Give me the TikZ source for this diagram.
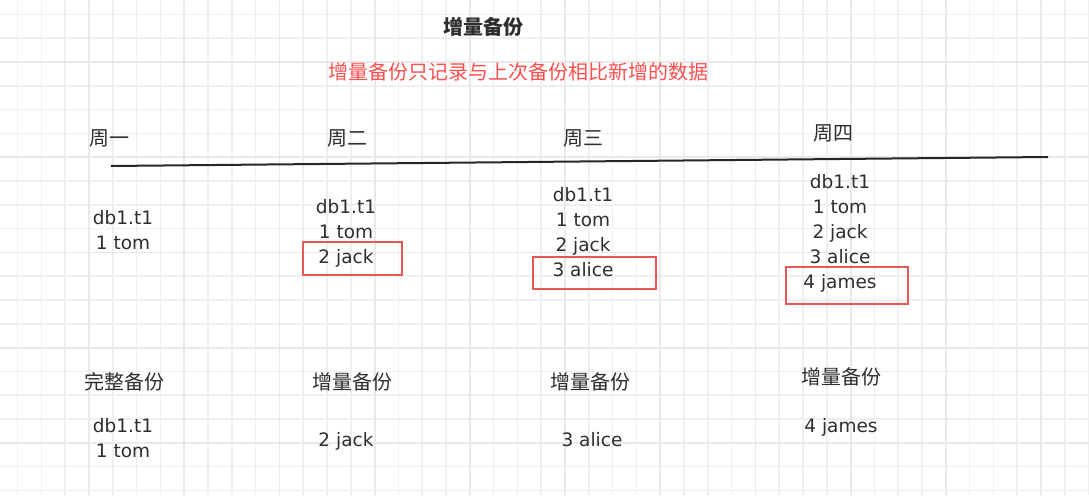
\documentclass[tikz,border=0pt]{standalone}
\usepackage{fontspec}
\setmainfont{DejaVu Sans}
\newfontfamily\cjk{Noto Sans CJK SC}
\definecolor{gridminor}{HTML}{EFEFEF}
\definecolor{gridmajor}{HTML}{E9E9E9}
\definecolor{txt}{HTML}{2E2E2E}
\definecolor{notered}{HTML}{FF4F4F}
\definecolor{boxred}{HTML}{E85656}
\tikzset{
  lat/.style={font=\fontsize{18.5}{25}\selectfont, text=txt, anchor=base, inner sep=0pt},
  zh/.style={font=\cjk\fontsize{20}{24}\selectfont, text=txt, inner sep=0pt},
  zhbold/.style={font=\cjk\bfseries\fontsize{20}{24}\selectfont, text=txt, inner sep=0pt},
  redbox/.style={draw=boxred, line width=2pt},
  timeline/.style={draw=black!85, line width=2pt}
}
\begin{document}
\begin{tikzpicture}[x=1pt,y=-1pt]
\fill[white] (0,0) rectangle (1089,495);
\useasboundingbox (0,0) rectangle (1089,495);
% grid
\foreach \k in {0,...,45}{
  \pgfmathsetmacro\xx{17.6+23.8*\k}
  \draw[gridminor, line width=1.5pt] (\xx,0) -- (\xx,495);
}
\foreach \k in {0,...,20}{
  \pgfmathsetmacro\yy{14.4+23.8*\k}
  \draw[gridminor, line width=1.5pt] (0,\yy) -- (1089,\yy);
}
\foreach \k in {0,...,10}{
  \pgfmathsetmacro\xx{89+95.2*\k}
  \draw[gridmajor, line width=1.8pt] (\xx,0) -- (\xx,495);
}
\foreach \k in {0,...,4}{
  \pgfmathsetmacro\yy{62+95.2*\k}
  \draw[gridmajor, line width=1.8pt] (0,\yy) -- (1089,\yy);
}
% title and note
\node[zhbold] (title) at (483,27) {增量备份};
\node[zh, text=notered] (note) at (518,72) {增量备份只记录与上次备份相比新增的数据};
% day labels
\node[zh] (d1) at (109,138) {周一};
\node[zh] (d2) at (347,138) {周二};
\node[zh] (d3) at (583,138) {周三};
\node[zh] (d4) at (833,133) {周四};
% timeline
\coordinate (tlA) at (111,166);
\coordinate (tlB) at (1048,157);
\draw[timeline] (tlA) -- (tlB);
% column 1
\node[lat] (c1a) at (123,224) {db1.t1};
\node[lat] (c1b) at (123,249) {1 tom};
% column 2
\node[lat] (c2a) at (346,213) {db1.t1};
\node[lat] (c2b) at (346,238) {1 tom};
\node[lat] (c2c) at (346,263) {2 jack};
% column 3
\node[lat] (c3a) at (583,201) {db1.t1};
\node[lat] (c3b) at (583,226) {1 tom};
\node[lat] (c3c) at (583,251) {2 jack};
\node[lat] (c3d) at (583,276) {3 alice};
% column 4
\node[lat] (c4a) at (840,188) {db1.t1};
\node[lat] (c4b) at (840,213) {1 tom};
\node[lat] (c4c) at (840,238) {2 jack};
\node[lat] (c4d) at (840,263) {3 alice};
\node[lat] (c4e) at (840,288) {4 james};
% highlight boxes
\draw[redbox] (303,242) rectangle (402,275);
\draw[redbox] (533,257) rectangle (656,289);
\draw[redbox] (786,267) rectangle (908,304);
% bottom row
\node[zh] (b1) at (124,382) {完整备份};
\node[zh] (b2) at (352,382) {增量备份};
\node[zh] (b3) at (590,382) {增量备份};
\node[zh] (b4) at (841,377) {增量备份};
\node[lat] (e1a) at (123,432) {db1.t1};
\node[lat] (e1b) at (123,457) {1 tom};
\node[lat] (e2) at (346,446) {2 jack};
\node[lat] (e3) at (592,446) {3 alice};
\node[lat] (e4) at (841,432) {4 james};
\end{tikzpicture}
\end{document}
